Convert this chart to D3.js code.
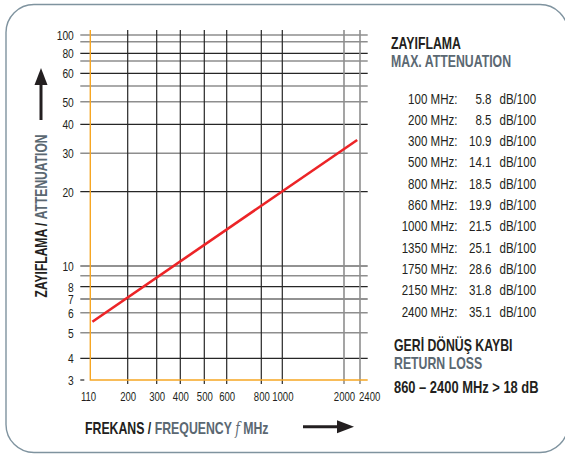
<!DOCTYPE html>
<html>
<head>
<meta charset="utf-8">
<script src="https://cdn.jsdelivr.net/npm/d3@7"></script>
<style>
  body { margin: 0; background: #fff; }
  svg text { font-family: "Liberation Sans", Arial, sans-serif; }
</style>
</head>
<body>
<div id="chart"></div>
<script>
// values
const freqTicks = [110, 200, 300, 400, 500, 600, 800, 1000, 2000, 2400];
const freqGrid = [200, 300, 400, 500, 600, 800, 1000, 2000, 2400];
const freqGridLight = [2000, 2400];
const attTicks = [3, 4, 5, 6, 7, 8, 10, 20, 30, 40, 50, 60, 80, 100];
const attGrid = [4, 5, 6, 7, 8, 9, 10, 20, 30, 40, 50, 55, 60, 70, 80, 90, 100];
const attGridLight = [100, 90, 70, 55, 50, 30, 9, 6, 5];

// the red curve (straight on this paper)
const curveFreq = [115, 2330];
const curveAtt = [5.55, 34.6];

// table at the right
const tableFreq = [100, 200, 300, 500, 800, 860, 1000, 1350, 1750, 2150, 2400];
const tableAtt = ["5.8", "8.5", "10.9", "14.1", "18.5", "19.9", "21.5", "25.1", "28.6", "31.8", "35.1"];
const returnLossText = "860 – 2400 MHz > 18 dB";

const dark = "#231f20", slate = "#5b6872", orange = "#f6a623", gridDark = "#262626", gridLight = "#8e8e8e";
const narrowScale = "scale(0.76,1)";   // no condensed font here, so squeeze Liberation Sans

const width = 565, height = 454;

var svg = d3.select("#chart").append("svg")
    .attr("width", width)
    .attr("height", height);

// appends a squeezed text at x,y
function narrowText(parent, x, y) {
    return parent.append("g")
        .attr("transform", "translate(" + x + "," + y + ") " + narrowScale)
        .append("text");
}

// frame
svg.append("rect")
    .attr("x", 6).attr("y", 4.5)
    .attr("width", 562).attr("height", 448)
    .attr("rx", 28).attr("ry", 28)
    .attr("fill", "none")
    .attr("stroke", "#7f939f")
    .attr("stroke-width", 1.4);

// the paper is not a true log grid, so the scales are piecewise
var x = d3.scaleLinear()
    .domain([110, 200, 300, 400, 500, 600, 800, 1000, 2000, 2400, 2600])
    .range([90.3, 127.7, 156.7, 180.3, 204.3, 226.7, 261.3, 282.3, 344, 360, 367.7]);

var y = d3.scaleLinear()
    .domain([3, 4, 5, 6, 7, 8, 9, 10, 20, 30, 40, 50, 55, 60, 70, 80, 90, 100, 108])
    .range([380, 358.3, 332.7, 312.7, 299, 286.7, 275.7, 266, 191.7, 153.3, 124.3, 101.7, 86, 73.3, 61, 53.3, 41.7, 35, 30]);

var xLeft = x(110), xRight = x(2600), yTop = y(108), yBottom = y(3);

// horizontal grid
svg.append("g").selectAll("line")
    .data(attGrid)
    .enter().append("line")
    .attr("x1", xLeft - 10)
    .attr("x2", xRight)
    .attr("y1", function(d) { return y(d); })
    .attr("y2", function(d) { return y(d); })
    .attr("stroke", function(d) { return attGridLight.indexOf(d) >= 0 ? gridLight : gridDark; })
    .attr("stroke-width", function(d) { return attGridLight.indexOf(d) >= 0 ? 1.6 : 1.2; });

// small tick for 3
svg.append("line")
    .attr("x1", xLeft - 10).attr("x2", xLeft - 6)
    .attr("y1", y(3)).attr("y2", y(3))
    .attr("stroke", gridDark).attr("stroke-width", 1.2);

// vertical grid
svg.append("g").selectAll("line")
    .data(freqGrid)
    .enter().append("line")
    .attr("x1", function(d) { return x(d); })
    .attr("x2", function(d) { return x(d); })
    .attr("y1", yTop)
    .attr("y2", yBottom + 4)
    .attr("stroke", function(d) { return freqGridLight.indexOf(d) >= 0 ? gridLight : gridDark; })
    .attr("stroke-width", function(d) { return freqGridLight.indexOf(d) >= 0 ? 1.6 : 1.2; });

// orange border left + bottom
svg.append("path")
    .attr("d", "M" + xLeft + "," + yTop + "V" + yBottom + "H" + xRight)
    .attr("fill", "none")
    .attr("stroke", orange)
    .attr("stroke-width", 1.4);

// axes (labels only)
var yAxis = svg.append("g")
    .attr("transform", "translate(" + (xLeft - 16.5) + ",0)")
    .call(d3.axisLeft(y).tickValues(attTicks).tickSize(0).tickPadding(0).tickFormat(d3.format("d")));
yAxis.select(".domain").remove();
yAxis.selectAll("text")
    .attr("fill", dark)
    .attr("transform", narrowScale)
    .style("font-size", "13.5px");

var xAxis = svg.append("g")
    .attr("transform", "translate(0," + (yBottom + 12) + ")")
    .call(d3.axisBottom(x).tickValues(freqTicks).tickSize(0).tickPadding(0).tickFormat(d3.format("d")));
xAxis.select(".domain").remove();
xAxis.selectAll("text")
    .attr("fill", dark)
    .attr("transform", narrowScale)
    .style("font-size", "12.6px");
// last label sits to the right of its line, like on the sheet
xAxis.selectAll("text")
    .filter(function(d) { return d === 2400; })
    .attr("text-anchor", "start")
    .attr("x", -2);
xAxis.selectAll("text")
    .filter(function(d) { return d === 110; })
    .attr("x", -3);

// curve
var line = d3.line()
    .x(function(d) { return x(d[0]); })
    .y(function(d) { return y(d[1]); });

svg.append("path")
    .datum(d3.zip(curveFreq, curveAtt))
    .attr("d", line)
    .attr("fill", "none")
    .attr("stroke", "#ec2427")
    .attr("stroke-width", 2.6);

// x title with arrow
var xTitle = narrowText(svg, 85, 428)
    .attr("dominant-baseline", "central")
    .style("font-size", "16.2px")
    .style("font-weight", "bold");
xTitle.append("tspan").attr("fill", dark).text("FREKANS / ");
xTitle.append("tspan").attr("fill", slate).text("FREQUENCY ");
xTitle.append("tspan").attr("fill", slate)
    .style("font-family", "'DejaVu Serif', serif")
    .style("font-style", "italic")
    .style("font-weight", "normal")
    .text("f");
xTitle.append("tspan").attr("fill", slate).text(" MHz");

svg.append("line")
    .attr("x1", 303).attr("x2", 340)
    .attr("y1", 426.7).attr("y2", 426.7)
    .attr("stroke", dark).attr("stroke-width", 3);
svg.append("path")
    .attr("d", "M337,420.2L354,426.7L337,433.2Z")
    .attr("fill", dark);

// y title with arrow
var yTitle = svg.append("g")
    .attr("transform", "translate(41,216) rotate(-90) " + narrowScale)
    .append("text")
    .attr("text-anchor", "middle")
    .attr("dominant-baseline", "central")
    .style("font-size", "15.9px")
    .style("font-weight", "bold");
yTitle.append("tspan").attr("fill", dark).text("ZAYIFLAMA / ");
yTitle.append("tspan").attr("fill", slate).text("ATTENUATION");

svg.append("line")
    .attr("x1", 41).attr("x2", 41)
    .attr("y1", 120).attr("y2", 82)
    .attr("stroke", dark).attr("stroke-width", 3);
svg.append("path")
    .attr("d", "M34.5,85L41,68L47.5,85Z")
    .attr("fill", dark);

// right panel
var panelX = 391;
narrowText(svg, panelX, 43)
    .attr("dominant-baseline", "central")
    .attr("fill", dark)
    .style("font-size", "16.2px").style("font-weight", "bold")
    .text("ZAYIFLAMA");
narrowText(svg, panelX, 61.5)
    .attr("dominant-baseline", "central")
    .attr("fill", slate)
    .style("font-size", "16.2px").style("font-weight", "bold")
    .text("MAX. ATTENUATION");

var rows = svg.append("g").selectAll("g")
    .data(d3.zip(tableFreq, tableAtt))
    .enter().append("g")
    .attr("transform", function(d, i) { return "translate(0," + (98.5 + i * 21.3) + ")"; })
    .style("font-size", "15.2px")
    .attr("fill", dark);
rows.append("g").attr("transform", "translate(457.5,0) " + narrowScale)
    .append("text")
    .attr("text-anchor", "end")
    .attr("dominant-baseline", "central")
    .text(function(d) { return d[0] + " MHz:"; });
rows.append("g").attr("transform", "translate(491.5,0) " + narrowScale)
    .append("text")
    .attr("text-anchor", "end")
    .attr("dominant-baseline", "central")
    .text(function(d) { return d[1]; });
rows.append("g").attr("transform", "translate(499.5,0) " + narrowScale)
    .append("text")
    .attr("dominant-baseline", "central")
    .text("dB/100");

narrowText(svg, 394, 345.5)
    .attr("dominant-baseline", "central")
    .attr("fill", dark)
    .style("font-size", "16.2px").style("font-weight", "bold")
    .text("GERİ DÖNÜŞ KAYBI");
narrowText(svg, 394, 363)
    .attr("dominant-baseline", "central")
    .attr("fill", slate)
    .style("font-size", "16.2px").style("font-weight", "bold")
    .text("RETURN LOSS");
narrowText(svg, 394, 386.5)
    .attr("dominant-baseline", "central")
    .attr("fill", dark)
    .style("font-size", "17px").style("font-weight", "bold")
    .text(returnLossText);
</script>
</body>
</html>
